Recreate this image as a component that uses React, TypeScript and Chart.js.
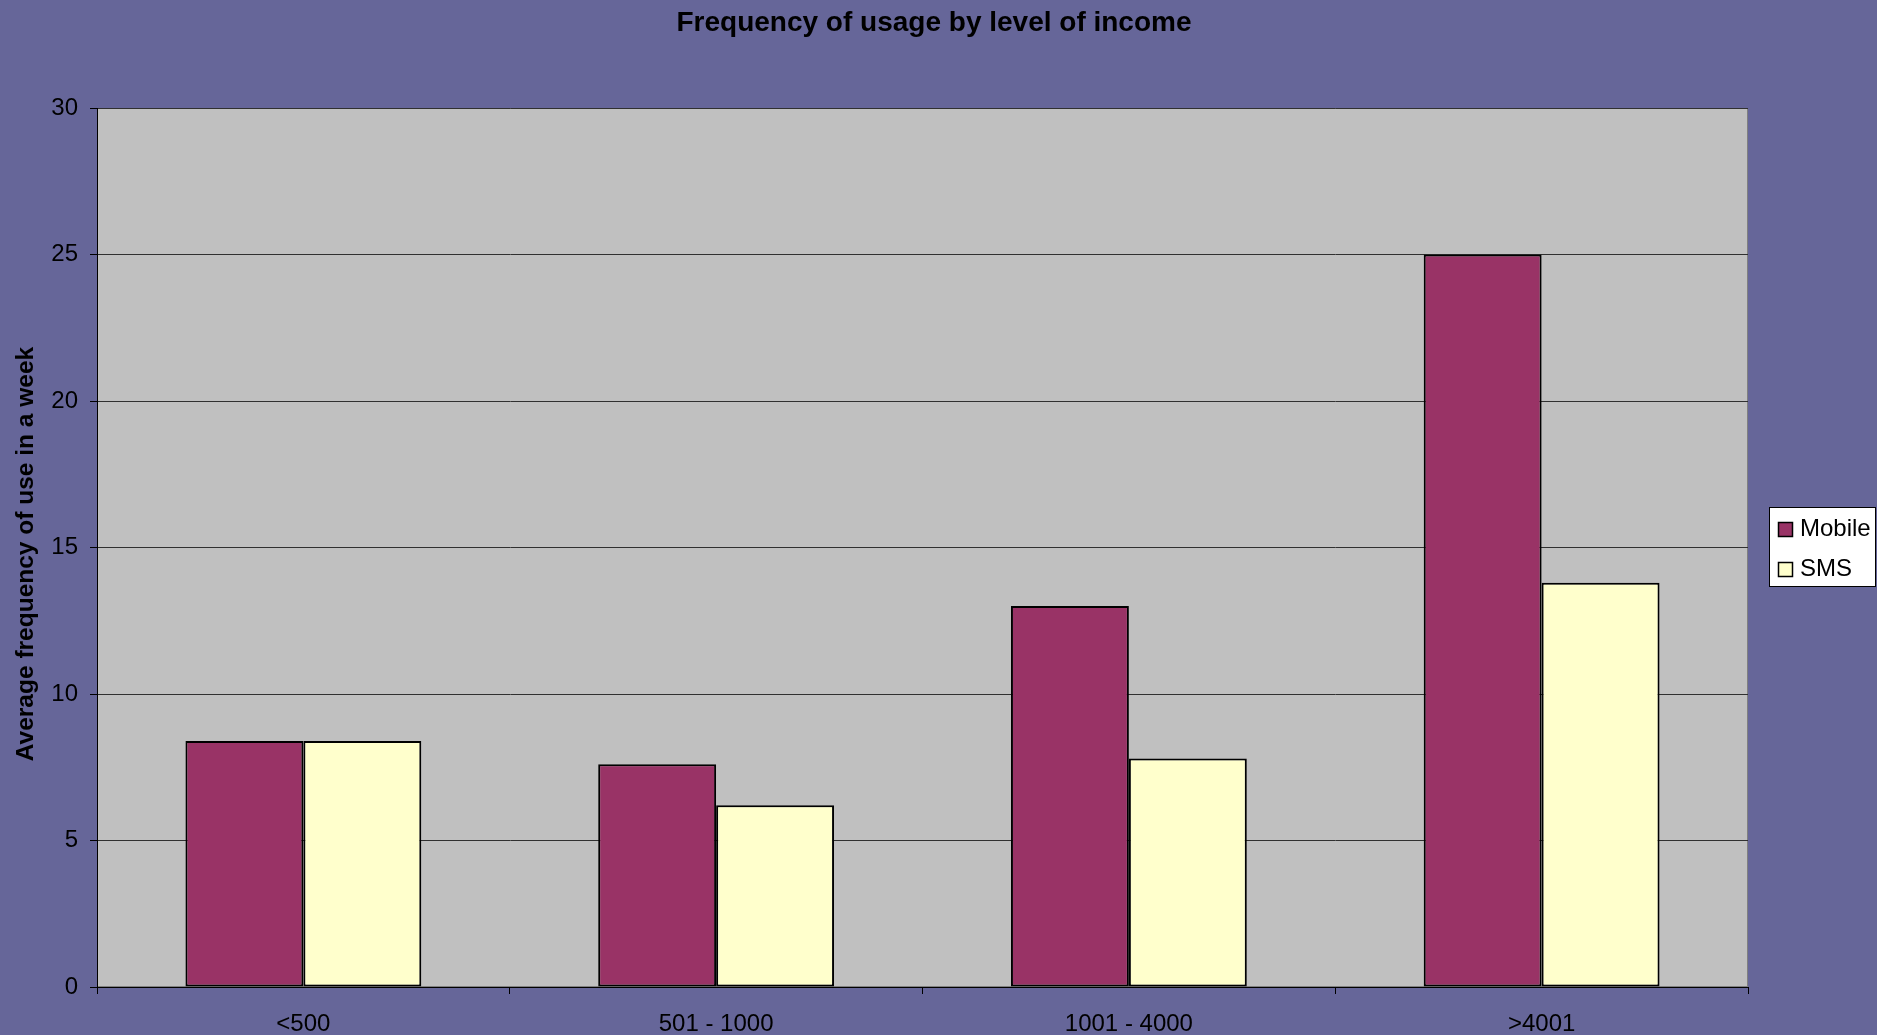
import { useEffect, useRef } from "react";
import { Chart, registerables } from "chart.js";

Chart.register(...registerables);

const TITLE = "Frequency of usage by level of income";
const Y_TITLE = "Average frequency of use in a week";
const CATEGORIES = ["<500", "501 - 1000", "1001 - 4000", ">4001"];
const SERIES_NAMES = ["Mobile", "SMS"];
const MOBILE = [8.4, 7.6, 13.0, 25.0];
const SMS = [8.4, 6.2, 7.8, 13.8];
const Y_MIN = 0;
const Y_MAX = 30;
const Y_STEP = 5;
const SERIES_COLORS = ["#993366", "#FFFFCC"];

const FONT = '"Liberation Sans", Arial, sans-serif';
const W = 1877;
const H = 1035;

const backgroundPlugin = {
  id: "excelBackground",
  beforeDraw(chart: any) {
    const { ctx, chartArea: a, width, height } = chart;
    ctx.save();
    ctx.fillStyle = "#666699";
    ctx.fillRect(0, 0, width, height);
    ctx.fillStyle = "#C0C0C0";
    ctx.fillRect(a.left, a.top, a.right - a.left, a.bottom - a.top);
    ctx.strokeStyle = "#808080";
    ctx.lineWidth = 1;
    ctx.strokeRect(a.left + 0.5, a.top + 0.5, a.right - a.left - 1, a.bottom - a.top - 1);
    ctx.restore();
  },
};

const titleLegendPlugin = {
  id: "excelTitleLegend",
  afterDraw(chart: any) {
    const { ctx } = chart;
    ctx.save();
    // Chart title
    ctx.fillStyle = "#000";
    ctx.font = `bold 28px ${FONT}`;
    ctx.textAlign = "center";
    ctx.textBaseline = "alphabetic";
    ctx.fillText(TITLE, 934, 31);

    // Y axis title (rotated)
    ctx.save();
    ctx.translate(33, 554);
    ctx.rotate(-Math.PI / 2);
    ctx.font = `bold 24.5px ${FONT}`;
    ctx.textAlign = "center";
    ctx.textBaseline = "alphabetic";
    ctx.fillText(Y_TITLE, 0, 0);
    ctx.restore();

    // Legend box
    const bx = 1769.5, by = 507.5, bw = 106, bh = 79;
    ctx.fillStyle = "#FFFFFF";
    ctx.fillRect(bx, by, bw, bh);
    ctx.strokeStyle = "#000";
    ctx.lineWidth = 1;
    ctx.strokeRect(bx, by, bw, bh);
    ctx.font = `24px ${FONT}`;
    ctx.textAlign = "left";
    chart.data.datasets.forEach((ds: any, i: number) => {
      const sy = 522 + i * 40;
      ctx.fillStyle = ds.backgroundColor;
      ctx.fillRect(1778.5, sy + 0.5, 14, 14);
      ctx.strokeStyle = "#000";
      ctx.lineWidth = 1.5;
      ctx.strokeRect(1778.5, sy + 0.5, 14, 14);
      ctx.fillStyle = "#000";
      ctx.fillText(ds.label, 1800, sy + 14);
    });
    ctx.restore();
  },
};

export default function App() {
  const canvasRef = useRef<HTMLCanvasElement | null>(null);

  useEffect(() => {
    if (!canvasRef.current) return;
    const chart = new Chart(canvasRef.current, {
      type: "bar",
      data: {
        labels: CATEGORIES,
        datasets: [
          {
            label: SERIES_NAMES[0],
            data: MOBILE,
            backgroundColor: SERIES_COLORS[0],
            borderColor: "#000",
            borderWidth: 2,
            borderSkipped: false,
          },
          {
            label: SERIES_NAMES[1],
            data: SMS,
            backgroundColor: SERIES_COLORS[1],
            borderColor: "#000",
            borderWidth: 2,
            borderSkipped: false,
          },
        ],
      },
      options: {
        responsive: false,
        maintainAspectRatio: false,
        devicePixelRatio: 1,
        animation: false,
        layout: { padding: { top: 108, right: 129, left: 0, bottom: 0 } },
        datasets: {
          bar: { categoryPercentage: 2 / 3.5, barPercentage: 1 },
        },
        plugins: {
          legend: { display: false },
          title: { display: false },
          tooltip: { enabled: false },
        },
        scales: {
          x: {
            type: "category",
            offset: true,
            afterFit: (scale: any) => {
              scale.height = 48;
            },
            grid: {
              offset: true,
              drawOnChartArea: false,
              drawTicks: true,
              tickLength: 7,
              tickColor: "#000",
              tickWidth: 1,
            },
            border: { display: true, color: "#000", width: 1 },
            ticks: {
              color: "#000",
              font: { family: FONT, size: 24 },
              padding: 16,
              maxRotation: 0,
              autoSkip: false,
            },
          },
          y: {
            type: "linear",
            min: Y_MIN,
            max: Y_MAX,
            afterFit: (scale: any) => {
              scale.width = 97;
            },
            grid: {
              color: "#303030",
              lineWidth: 1,
              drawTicks: true,
              tickLength: 7,
              tickColor: "#000",
            },
            border: { display: true, color: "#000", width: 1 },
            ticks: {
              stepSize: Y_STEP,
              color: "#000",
              font: { family: FONT, size: 24 },
              padding: 12,
            },
            title: { display: false },
          },
        },
      },
      plugins: [backgroundPlugin, titleLegendPlugin],
    });
    return () => chart.destroy();
  }, []);

  return (
    <div style={{ position: "fixed", left: 0, top: 0, width: W, height: H }}>
      <canvas ref={canvasRef} width={W} height={H} style={{ width: W, height: H, display: "block" }} />
    </div>
  );
}
